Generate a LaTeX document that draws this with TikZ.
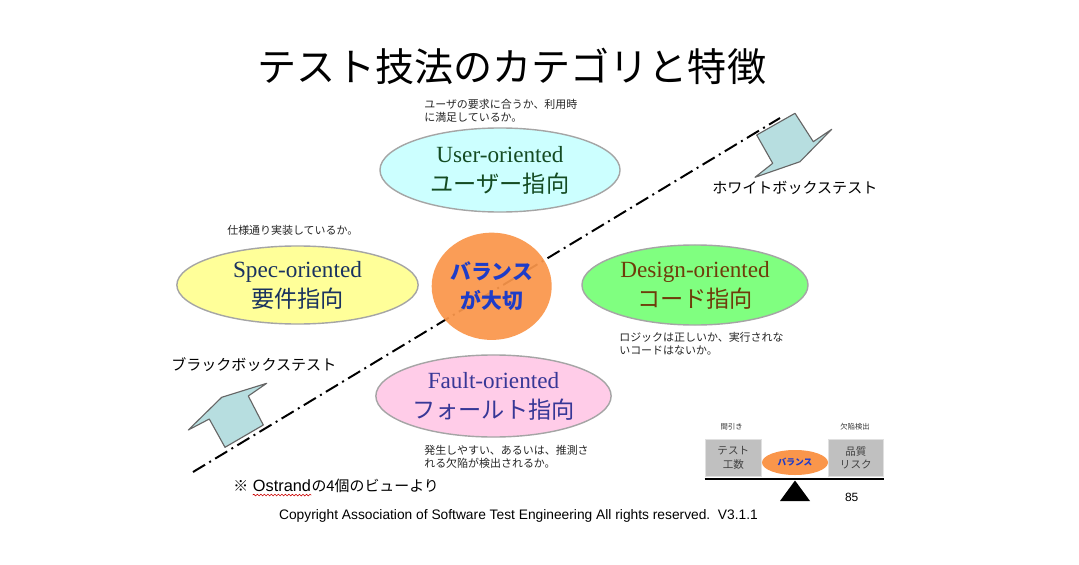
\documentclass[tikz,border=0pt]{standalone}
\usepackage{fontspec}
\setmainfont{Liberation Serif}
\newfontfamily\jp{Noto Sans CJK JP}
\newfontfamily\arialfont{Liberation Sans}
\usetikzlibrary{shapes.geometric}
\usetikzlibrary{positioning}
\usetikzlibrary{decorations.pathmorphing}

\definecolor{rimgray}{RGB}{165,165,165}
\definecolor{userfill}{RGB}{204,255,255}
\definecolor{usertext}{RGB}{20,75,35}
\definecolor{specfill}{RGB}{255,255,153}
\definecolor{spectext}{RGB}{25,50,95}
\definecolor{designfill}{RGB}{128,255,128}
\definecolor{designtext}{RGB}{110,60,10}
\definecolor{faultfill}{RGB}{255,204,232}
\definecolor{faulttext}{RGB}{55,55,150}
\definecolor{balfill}{RGB}{250,150,75}
\definecolor{baltext}{RGB}{30,60,200}
\definecolor{arrowfill}{RGB}{183,222,224}
\definecolor{boxfill}{RGB}{192,192,192}

\tikzset{
  category/.style={ellipse, draw=rimgray, line width=1pt, inner sep=0pt, align=center,
    font=\fontsize{16.5}{21.3}\selectfont},
  remark/.style={inner sep=0pt, align=left, text=black!85, font=\jp\fontsize{7.8}{9.4}\selectfont},
  boxarrow/.style={fill=arrowfill, draw=black!60, line width=0.8pt, line join=round},
  weightbox/.style={rectangle, fill=boxfill, draw=black!12, inner sep=0pt, align=center,
    minimum height=0.935cm, text=black!75, font=\jp\fontsize{7.5}{9.5}\selectfont},
}

\begin{document}
\begin{tikzpicture}[x=0.025cm, y=-0.025cm]
\useasboundingbox[fill=white] (0,0) rectangle (1079,565);

\node[font=\jp\fontsize{27.8}{34}\selectfont] (title) at (512,66) {テスト技法のカテゴリと特徴};

% black box / white box divide
\coordinate (lineS) at (193,472);
\coordinate (lineE) at (780,118);
\draw[line width=1.4pt, dash pattern=on 10pt off 3.5pt on 1.4pt off 3.5pt] (lineS) -- (lineE);

\draw[boxarrow] (795,113.3) -- (813.3,141.7) -- (831.7,129.3) -- (800,161.7) -- (755,177.3) -- (772.7,163.3) -- (756.7,135) -- cycle;
\draw[boxarrow] (221.7,397.3) -- (266.7,383.3) -- (248.3,396) -- (263.3,425) -- (225,447.3) -- (209.3,419) -- (188.3,430) -- cycle;

\node[anchor=west, inner sep=0pt, font=\jp\fontsize{10.7}{12}\selectfont] (wbox) at (712,188) {ホワイトボックステスト};
\node[anchor=west, inner sep=0pt, font=\jp\fontsize{10.7}{12}\selectfont] (bbox) at (171,365) {ブラックボックステスト};

% the four views
\node[category, fill=userfill, text=usertext, minimum width=6cm, minimum height=2.1cm] (user) at (500,170) {User-oriented\\{\jp ユーザー指向}};
\node[category, fill=specfill, text=spectext, minimum width=6.03cm, minimum height=1.95cm] (spec) at (297.5,285) {Spec-oriented\\{\jp 要件指向}};
\node[category, fill=designfill, text=designtext, minimum width=5.65cm, minimum height=2cm] (design) at (695,285) {Design-oriented\\{\jp コード指向}};
\node[category, fill=faultfill, text=faulttext, minimum width=5.88cm, minimum height=2.05cm] (fault) at (493.5,396) {Fault-oriented\\{\jp フォールト指向}};
\node[category, draw=none, fill=balfill, fill opacity=0.93, text opacity=1, text=baltext, minimum width=3cm, minimum height=2.68cm, font=\jp\bfseries\fontsize{14.8}{20.5}\selectfont] (balance) at (491.7,286.3) {バランス\\が大切};

\node[remark, anchor=north west] (userNote) at (424,99) {ユーザの要求に合うか、利用時\\に満足しているか。};
\node[remark, anchor=west] (specNote) at (227,230) {仕様通り実装しているか。};
\node[remark, anchor=north west] (designNote) at (619,332) {ロジックは正しいか、実行されな\\いコードはないか。};
\node[remark, anchor=north west] (faultNote) at (424,445) {発生しやすい、あるいは、推測さ\\れる欠陥が検出されるか。};

% footnote
\node[anchor=west, inner sep=0pt, font=\jp\fontsize{10.6}{13}\selectfont] (noteMark) at (233,486) {※};
\node[base right=3pt of noteMark, inner sep=0pt, font=\arialfont\fontsize{11.6}{14}\selectfont] (ostrand) {Ostrand};
\node[base right=0pt of ostrand, inner sep=0pt, font=\jp\fontsize{10.6}{13}\selectfont] (noteRest) {の4個のビューより};
\draw[red!80!black, line width=0.4pt, decorate, decoration={snake, amplitude=0.6pt, segment length=2.5pt}] ([yshift=-2.5pt]ostrand.base west) -- ([yshift=-2.5pt]ostrand.base east);

\node[font=\arialfont\fontsize{9.8}{12}\selectfont] (copyright) at (518.5,516) {Copyright Association of Software Test Engineering All rights reserved.\ \ V3.1.1};

% balance scale
\node[weightbox, minimum width=1.42cm] (cost) at (733.3,458) {テスト\\工数};
\node[weightbox, minimum width=1.375cm] (risk) at (855.8,458) {品質\\リスク};
\node[ellipse, fill=balfill, inner sep=0pt, minimum width=1.65cm, minimum height=0.625cm, text=baltext, font=\jp\bfseries\fontsize{6.2}{7}\selectfont] (scaleBal) at (795,462.5) {バランス};
\draw[line width=1.5pt] ([yshift=-1.5pt]cost.south west) -- ([yshift=-1.5pt]risk.south east);
\fill (795,480.5) -- (810,501) -- (780,501) -- cycle;
\node[font=\jp\fontsize{5.2}{6}\selectfont, text=black!80] (costLabel) at (731.7,427) {間引き};
\node[font=\jp\fontsize{5.2}{6}\selectfont, text=black!80] (riskLabel) at (855,427) {欠陥検出};
\node[font=\arialfont\fontsize{8.5}{10}\selectfont] (pageNo) at (851.7,497) {85};

\end{tikzpicture}
\end{document}
